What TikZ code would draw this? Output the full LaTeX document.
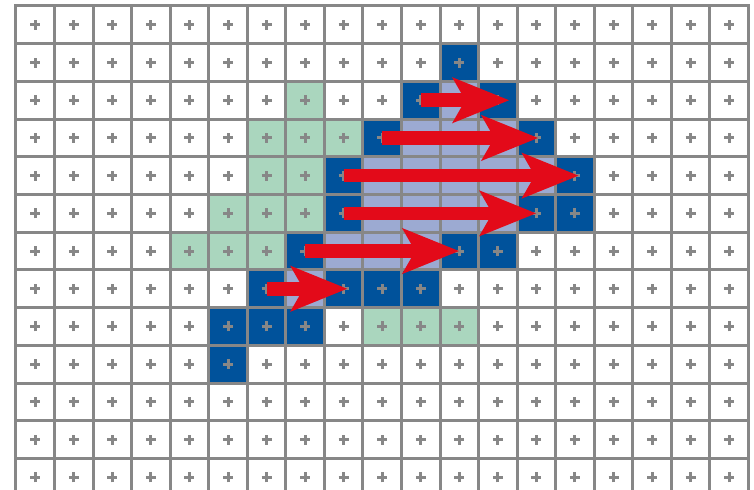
\documentclass[tikz,border=0pt]{standalone}
\usepackage{tikz}
\usetikzlibrary{arrows.meta}
\definecolor{cellblue}{RGB}{0,82,155}
\definecolor{celllav}{RGB}{156,170,210}
\definecolor{cellgreen}{RGB}{170,214,190}
\definecolor{flowred}{RGB}{227,10,25}
\definecolor{linegray}{RGB}{135,135,135}

\begin{document}
\begin{tikzpicture}[x=38.55pt,y=-37.7pt,
  gridline/.style={linegray,line width=3pt,line cap=rect},
  cross/.style={linegray,line width=3pt},
  flow/.style={flowred,line width=13.5pt,-{Stealth[length=56pt,width=44pt,inset=12pt]}}]
\useasboundingbox (-0.415,-0.159) rectangle (19.144,12.838);
\clip (-0.415,-0.159) rectangle (19.144,12.838);
\fill[white] (-0.415,-0.159) rectangle (19.144,12.838);
\foreach \c/\r in {7/2,6/3,7/3,8/3,6/4,7/4,5/5,6/5,7/5,4/6,5/6,6/6,9/8,10/8,11/8}
  \fill[cellgreen] (\c,\r) rectangle ++(1,1);
\foreach \c/\r in {11/2,10/3,11/3,12/3,9/4,10/4,11/4,12/4,13/4,9/5,10/5,11/5,12/5,8/6,9/6,10/6,7/7}
  \fill[celllav] (\c,\r) rectangle ++(1,1);
\foreach \c/\r in {11/1,10/2,12/2,9/3,13/3,8/4,14/4,8/5,13/5,14/5,7/6,11/6,12/6,6/7,8/7,9/7,10/7,5/8,6/8,7/8,5/9}
  \fill[cellblue] (\c,\r) rectangle ++(1,1);
\foreach \i in {0,...,19} \draw[gridline] (\i,0) -- (\i,13.2);
\foreach \j in {0,...,12} \draw[gridline] (0,\j) -- (19,\j);
\foreach \c in {0,...,18} \foreach \r in {0,...,12} {
  \draw[cross] (\c+.5,\r+.5) ++(-5pt,0pt) -- ++(10pt,0pt);
  \draw[cross] (\c+.5,\r+.5) ++(0pt,-5pt) -- ++(0pt,10pt);
}
\foreach \r/\s/\e in {2/10.5/12.8,3/9.5/13.55,4/8.5/14.6,5/8.5/13.5,6/7.5/11.5,7/6.5/8.6} {
  \coordinate (s\r) at (\s,\r+.5);
  \coordinate (e\r) at (\e,\r+.5);
  \draw[flow] (s\r) -- (e\r);
}
\end{tikzpicture}
\end{document}
